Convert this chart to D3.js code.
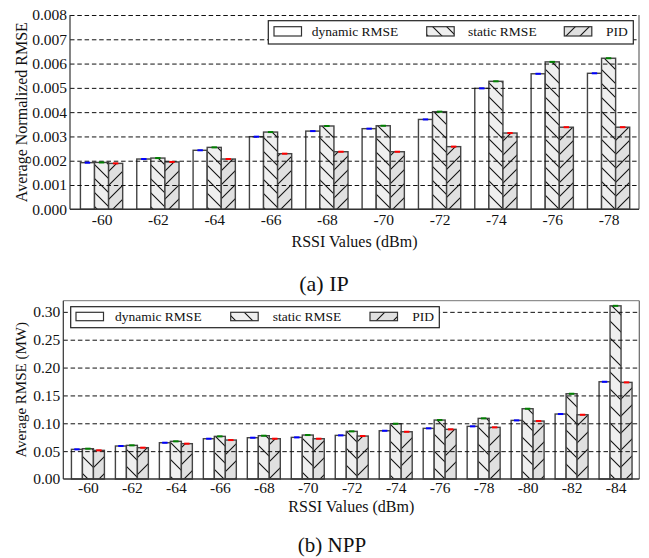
<!DOCTYPE html>
<html>
<head>
<meta charset="utf-8">
<script src="https://cdn.jsdelivr.net/npm/d3@7"></script>
<style>
  html, body { margin: 0; padding: 0; background: #fff; }
  svg { display: block; }
  text { font-family: "Liberation Serif", "Times New Roman", serif; fill: #111; }
</style>
</head>
<body>
<svg id="chart" width="649" height="558"></svg>
<script>
// ---------- data ----------
const seriesNames = ["dynamic RMSE", "static RMSE", "PID"];

const ipCategories = ["-60", "-62", "-64", "-66", "-68", "-70", "-72", "-74", "-76", "-78"];
const ipDynamic = [0.00192, 0.00207, 0.00243, 0.00299, 0.00322, 0.00332, 0.00370, 0.00498, 0.00558, 0.00560];
const ipStatic  = [0.00193, 0.00211, 0.00255, 0.00318, 0.00343, 0.00344, 0.00402, 0.00527, 0.00607, 0.00622];
const ipPID     = [0.00189, 0.00195, 0.00207, 0.00229, 0.00237, 0.00237, 0.00258, 0.00314, 0.00338, 0.00338];
const ipTicks = [0, 0.001, 0.002, 0.003, 0.004, 0.005, 0.006, 0.007, 0.008];

const nppCategories = ["-60", "-62", "-64", "-66", "-68", "-70", "-72", "-74", "-76", "-78", "-80", "-82", "-84"];
const nppDynamic = [0.0532, 0.0592, 0.0651, 0.0723, 0.0741, 0.0747, 0.0783, 0.0866, 0.0909, 0.0945, 0.1052, 0.1166, 0.1745];
const nppStatic  = [0.0544, 0.0604, 0.0676, 0.0765, 0.0777, 0.0789, 0.0855, 0.0992, 0.1058, 0.1088, 0.1261, 0.1530, 0.3108];
const nppPID     = [0.0514, 0.0562, 0.0634, 0.0699, 0.0723, 0.0723, 0.0771, 0.0848, 0.0891, 0.0927, 0.1040, 0.1153, 0.1734];
const nppTicks = [0, 0.05, 0.10, 0.15, 0.20, 0.25, 0.30];

// ---------- styles ----------
const fills = ["#ffffff", "#efefef", "#e0e0e0"];
const capColors = ["#0000ff", "#008000", "#ff0000"];

const svg = d3.select("#chart");
const defs = svg.append("defs");
function addPattern(id, P, back) {
  const d = back
    ? `M-1,${P-1} l2,2 M0,0 l${P},${P} M${P-1},-1 l2,2`
    : `M-1,1 l2,-2 M0,${P} l${P},${-P} M${P-1},${P+1} l2,-2`;
  const p = defs.append("pattern").attr("id", id)
    .attr("patternUnits", "userSpaceOnUse").attr("width", P).attr("height", P);
  p.append("path").attr("d", d).attr("stroke", "#111").attr("stroke-width", 1.1).attr("fill", "none");
}
addPattern("ipBack", 14, true);
addPattern("ipFwd", 14, false);
addPattern("nppBack", 17, true);
addPattern("nppFwd", 17, false);

function drawChart(cfg) {
  const { left, right, top, bottom, categories, series, ticks, yMax, fmt, hatches,
          yLabel, yLabelX, yLabelSize, xLabelY, xTickY, caption, captionX, captionY, captionSize, legend } = cfg;
  const n = categories.length;
  const x = d3.scaleLinear().domain([-0.56, n - 1 + 0.54]).range([left, right]);
  const y = d3.scaleLinear().domain([0, yMax]).range([bottom, top]);
  const g = svg.append("g");
  const bw = x(0.25) - x(0);

  // bars
  series.forEach((vals, s) => {
    const off = -0.375 + 0.25 * s;
    const bars = g.append("g");
    bars.selectAll("rect.fill").data(vals).join("rect")
      .attr("x", (d, i) => x(i + off)).attr("width", bw)
      .attr("y", d => y(d)).attr("height", d => y(0) - y(d))
      .attr("fill", fills[s]);
    if (hatches[s]) {
      bars.selectAll("rect.hatch").data(vals).join("rect")
        .attr("x", (d, i) => x(i + off)).attr("width", bw)
        .attr("y", d => y(d)).attr("height", d => y(0) - y(d))
        .attr("fill", hatches[s]);
    }
    bars.selectAll("rect.edge").data(vals).join("rect")
      .attr("x", (d, i) => x(i + off)).attr("width", bw)
      .attr("y", d => y(d)).attr("height", d => y(0) - y(d))
      .attr("fill", "none").attr("stroke", "#444").attr("stroke-width", 1.4);
  });

  // grid
  const grid = g.append("g").attr("transform", `translate(${left},0)`)
    .call(d3.axisLeft(y).tickValues(ticks.filter(t => t > 0)).tickSize(-(right - left)).tickFormat(""));
  grid.select(".domain").remove();
  grid.selectAll("line").attr("stroke", "#111").attr("stroke-width", 1).attr("stroke-dasharray", "4.5,2.8");

  // caps
  series.forEach((vals, s) => {
    const off = -0.375 + 0.25 * s + 0.125;
    g.append("g").selectAll("rect").data(vals).join("rect")
      .attr("x", (d, i) => x(i + off) - 2.7).attr("width", 5.4)
      .attr("y", d => y(d) - 1).attr("height", 2)
      .attr("fill", capColors[s]);
  });

  // frame
  g.append("line").attr("x1", left).attr("x2", right).attr("y1", top).attr("y2", top)
    .attr("stroke", "#777").attr("stroke-width", 1).attr("opacity", cfg.topSpine ? 1 : 0);
  g.append("line").attr("x1", left).attr("x2", left).attr("y1", top).attr("y2", bottom).attr("stroke", "#333").attr("stroke-width", 1.2);
  g.append("line").attr("x1", right).attr("x2", right).attr("y1", top).attr("y2", bottom).attr("stroke", "#666").attr("stroke-width", 1.2);
  g.append("line").attr("x1", left).attr("x2", right).attr("y1", bottom).attr("y2", bottom).attr("stroke", "#333").attr("stroke-width", 1.5);

  // y axis labels
  const ya = g.append("g").attr("transform", `translate(${left},0)`)
    .call(d3.axisLeft(y).tickValues(ticks).tickFormat(d3.format(fmt)).tickSize(0).tickPadding(3));
  ya.select(".domain").remove();
  ya.selectAll("text").attr("font-size", 15.5).attr("font-family", "Liberation Serif").attr("fill", "#111");

  // x axis labels
  const xa = g.append("g").attr("transform", `translate(0,${xTickY})`)
    .call(d3.axisBottom(x).tickValues(d3.range(n)).tickFormat(i => categories[i]).tickSize(0).tickPadding(0));
  xa.select(".domain").remove();
  xa.selectAll("text").attr("font-size", 15.5).attr("font-family", "Liberation Serif").attr("fill", "#111")
    .attr("dy", "0.32em");

  // axis titles
  g.append("text").attr("x", (left + right) / 2).attr("y", xLabelY).attr("text-anchor", "middle")
    .attr("dominant-baseline", "central").attr("font-size", 16).text("RSSI Values (dBm)");
  g.append("text").attr("transform", `translate(${yLabelX},${(top + bottom) / 2}) rotate(-90)`)
    .attr("text-anchor", "middle").attr("dominant-baseline", "central").attr("font-size", yLabelSize).text(yLabel);
  g.append("text").attr("x", captionX).attr("y", captionY).attr("text-anchor", "middle")
    .attr("dominant-baseline", "central").attr("font-size", captionSize).text(caption);

  // legend
  const L = legend;
  const lg = g.append("g");
  lg.append("rect").attr("x", L.x0).attr("y", L.y0).attr("width", L.x1 - L.x0).attr("height", L.y1 - L.y0)
    .attr("fill", "#fff").attr("stroke", "#222").attr("stroke-width", 1.2);
  seriesNames.forEach((name, s) => {
    const px = L.patchX[s];
    lg.append("rect").attr("x", px).attr("y", L.py0).attr("width", 27.5).attr("height", L.py1 - L.py0).attr("fill", fills[s]);
    if (hatches[s]) {
      lg.append("rect").attr("x", px).attr("y", L.py0).attr("width", 27.5).attr("height", L.py1 - L.py0).attr("fill", hatches[s]);
    }
    lg.append("rect").attr("x", px).attr("y", L.py0).attr("width", 27.5).attr("height", L.py1 - L.py0)
      .attr("fill", "none").attr("stroke", "#333").attr("stroke-width", 1.2);
    lg.append("text").attr("x", L.textX[s]).attr("y", (L.py0 + L.py1) / 2).attr("dominant-baseline", "central")
      .attr("font-size", 13.5).text(name);
  });
}

drawChart({
  left: 70, right: 639, top: 15, bottom: 209.3,
  categories: ipCategories, series: [ipDynamic, ipStatic, ipPID],
  ticks: ipTicks, yMax: 0.008, fmt: ".3f",
  hatches: [null, "url(#ipBack)", "url(#ipFwd)"],
  yLabel: "Average Normalized RMSE", yLabelX: 21, yLabelSize: 16,
  xTickY: 220, xLabelY: 241,
  caption: "(a) IP", captionX: 324, captionY: 283, captionSize: 22,
  topSpine: false,
  legend: { x0: 268.3, x1: 633.3, y0: 20.7, y1: 44, py0: 26.7, py1: 36,
            patchX: [274, 426.7, 564.3], textX: [311.7, 468, 606] }
});

drawChart({
  left: 63.3, right: 639.3, top: 300.7, bottom: 479,
  categories: nppCategories, series: [nppDynamic, nppStatic, nppPID],
  ticks: nppTicks, yMax: 0.32, fmt: ".2f",
  hatches: [null, "url(#nppBack)", "url(#nppFwd)"],
  yLabel: "Average RMSE (MW)", yLabelX: 20.7, yLabelSize: 15,
  xTickY: 488, xLabelY: 506,
  caption: "(b) NPP", captionX: 332, captionY: 545, captionSize: 21,
  topSpine: true,
  legend: { x0: 70.7, x1: 439.3, y0: 306.7, y1: 327.7, py0: 312.3, py1: 320.7,
            patchX: [76, 230.7, 370], textX: [115, 272.7, 412.3] }
});
</script>
</body>
</html>
